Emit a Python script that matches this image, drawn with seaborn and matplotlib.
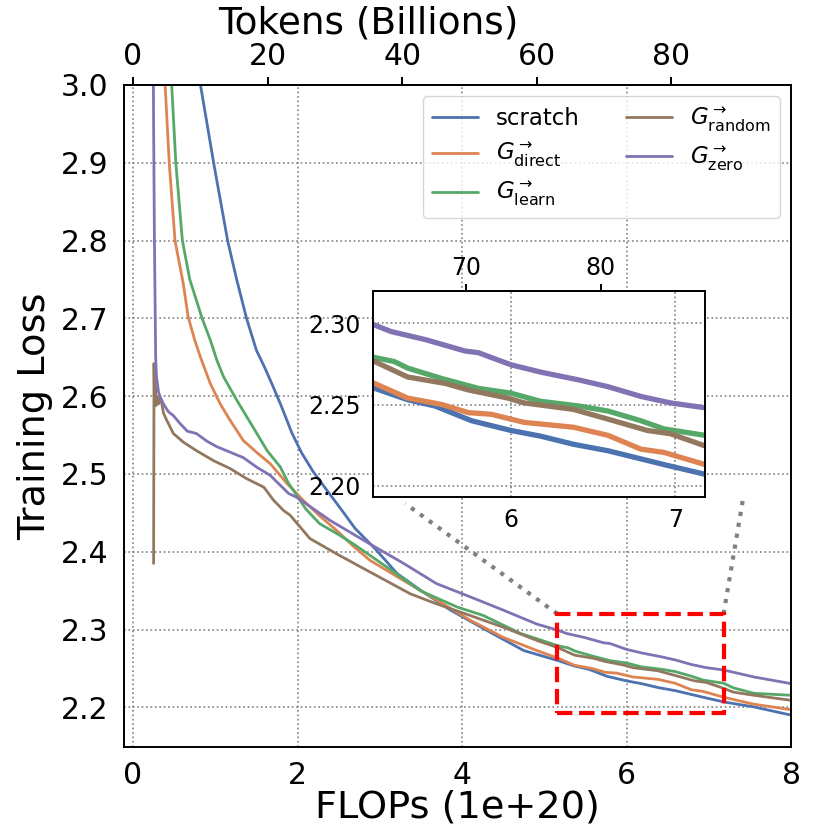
import numpy as np
import pandas as pd
import matplotlib
matplotlib.use("Agg")
import matplotlib.pyplot as plt
import matplotlib.patches as patches
import seaborn as sns

# loss curves: FLOPs in units of 1e20, training loss
scratch_x = [0.78, 0.82, 0.98, 1.15, 1.26, 1.38, 1.50, 1.60, 1.70, 1.80, 1.93, 2.05, 2.19, 2.35, 2.52, 2.70,
             2.96, 3.21, 3.53, 3.86, 4.30, 4.75, 5.17, 5.37, 5.54, 5.76, 6.00, 6.18, 6.38, 6.59, 6.79, 6.93,
             7.18, 7.55, 8.00]
scratch_y = [3.05, 3.00, 2.90, 2.80, 2.75, 2.70, 2.659, 2.637, 2.613, 2.588, 2.553, 2.527, 2.503, 2.480, 2.456, 2.430,
             2.402, 2.372, 2.348, 2.325, 2.299, 2.273, 2.260, 2.253, 2.249, 2.240, 2.234, 2.2305, 2.2255, 2.2215, 2.2165, 2.213,
             2.207, 2.2005, 2.190]

direct_x = [0.37, 0.39, 0.44, 0.51, 0.61, 0.67, 0.75, 0.82, 0.94, 1.06, 1.18, 1.34, 1.50, 1.67, 1.87, 2.07,
            2.27, 2.48, 2.68, 2.88, 3.29, 3.69, 4.10, 4.50, 4.91, 5.17, 5.37, 5.58, 5.74, 5.88, 6.08, 6.38,
            6.59, 6.79, 6.93, 7.18, 7.55, 8.00]
direct_y = [3.05, 3.00, 2.90, 2.80, 2.745, 2.702, 2.672, 2.650, 2.616, 2.590, 2.569, 2.543, 2.528, 2.513, 2.488, 2.466,
            2.446, 2.427, 2.407, 2.389, 2.363, 2.338, 2.312, 2.290, 2.273, 2.263, 2.254, 2.250, 2.245, 2.244, 2.239, 2.236,
            2.231, 2.2225, 2.2205, 2.213, 2.204, 2.197]

learn_x = [0.45, 0.47, 0.52, 0.60, 0.69, 0.84, 0.94, 1.02, 1.10, 1.26, 1.46, 1.63, 1.79, 1.89, 1.95, 2.10,
           2.27, 2.50, 2.68, 3.09, 3.49, 3.94, 4.26, 4.71, 5.00, 5.17, 5.29, 5.37, 5.58, 5.80, 6.00, 6.18,
           6.42, 6.59, 6.79, 6.93, 7.18, 7.30, 7.55, 8.00]
learn_y = [3.05, 3.00, 2.90, 2.80, 2.75, 2.70, 2.672, 2.646, 2.625, 2.595, 2.560, 2.530, 2.509, 2.488, 2.479, 2.455,
           2.436, 2.422, 2.410, 2.380, 2.350, 2.329, 2.318, 2.295, 2.285, 2.279, 2.2765, 2.2725, 2.266, 2.260, 2.257, 2.252,
           2.249, 2.246, 2.240, 2.235, 2.231, 2.225, 2.218, 2.2155]

random_x = [0.25, 0.255, 0.262, 0.27, 0.28, 0.29, 0.31, 0.33, 0.35, 0.37, 0.41, 0.49, 0.61, 0.77, 0.98, 1.18,
            1.38, 1.59, 1.71, 1.83, 1.91, 2.15, 2.48, 2.88, 3.37, 3.69, 4.10, 4.50, 4.91, 5.17, 5.37, 5.60,
            5.74, 5.98, 6.08, 6.38, 6.59, 6.83, 6.97, 7.18, 7.30, 7.55, 8.00]
random_y = [2.385, 2.642, 2.590, 2.612, 2.588, 2.600, 2.590, 2.598, 2.590, 2.578, 2.569, 2.552, 2.541, 2.530, 2.517, 2.507,
            2.494, 2.483, 2.466, 2.453, 2.447, 2.417, 2.397, 2.374, 2.346, 2.333, 2.318, 2.303, 2.286, 2.2765, 2.267, 2.263,
            2.259, 2.254, 2.251, 2.247, 2.241, 2.234, 2.232, 2.2245, 2.2195, 2.2155, 2.209]

zero_x = [0.245, 0.25, 0.26, 0.27, 0.275, 0.285, 0.31, 0.33, 0.37, 0.43, 0.49, 0.57, 0.66, 0.77, 0.90, 1.02,
          1.18, 1.34, 1.50, 1.67, 1.89, 1.99, 2.40, 2.88, 3.29, 3.69, 4.10, 4.50, 4.91, 5.17, 5.27, 5.48,
          5.72, 5.80, 6.00, 6.18, 6.42, 6.59, 6.79, 6.97, 7.18, 7.55, 8.00]
zero_y = [3.05, 2.95, 2.80, 2.70, 2.65, 2.625, 2.605, 2.599, 2.590, 2.580, 2.575, 2.565, 2.555, 2.552, 2.542, 2.535,
          2.528, 2.521, 2.509, 2.498, 2.475, 2.470, 2.440, 2.410, 2.385, 2.359, 2.342, 2.325, 2.307, 2.299, 2.295, 2.290,
          2.283, 2.282, 2.2745, 2.270, 2.265, 2.261, 2.255, 2.251, 2.248, 2.239, 2.2305]

labels = ['scratch',
          r'$G^{\rightarrow}_{\mathrm{direct}}$',
          r'$G^{\rightarrow}_{\mathrm{learn}}$',
          r'$G^{\rightarrow}_{\mathrm{random}}$',
          r'$G^{\rightarrow}_{\mathrm{zero}}$']

# tokens (billions) per 1e20 FLOPs
tokens_per_flop = 12.22

deep = sns.color_palette('deep')
colors = [deep[0], deep[1], deep[2], deep[5], deep[4]]

series = [(scratch_x, scratch_y), (direct_x, direct_y), (learn_x, learn_y),
          (random_x, random_y), (zero_x, zero_y)]

sns.set_theme(style='white', palette='deep')
plt.rcParams['font.family'] = ['DejaVu Sans']
plt.rcParams['mathtext.fontset'] = 'dejavusans'
for key in ['text.color', 'axes.labelcolor', 'xtick.color', 'ytick.color']:
    plt.rcParams[key] = 'black'

fig = plt.figure(figsize=(8.3, 8.3), dpi=100)
ax = fig.add_axes([124/830, 83/830, 667/830, 662/830])

for (xs, ys), lab, c in zip(series, labels, colors):
    df = pd.DataFrame({'flops': xs, 'loss': ys})
    sns.lineplot(data=df, x='flops', y='loss', ax=ax, color=c, lw=2, label=lab,
                 estimator=None, sort=False)

ax.set_xlim(-0.11, 8.0)
ax.set_ylim(2.149, 3.0)
ax.set_xticks([0, 2, 4, 6, 8])
ax.set_yticks(np.arange(2.2, 3.01, 0.1))
ax.yaxis.set_major_formatter(matplotlib.ticker.FormatStrFormatter('%.1f'))
ax.grid(True, linestyle=':', color='grey', lw=1.2)
ax.tick_params(axis='x', length=6, width=1.4, labelsize=21.5, pad=4, color='black')
ax.tick_params(axis='y', length=0, labelsize=21.5, pad=11)
ax.set_xlabel('FLOPs (1e+20)', fontsize=27.5, labelpad=0)
ax.set_ylabel('Training Loss', fontsize=27.5, labelpad=6)
for s in ax.spines.values():
    s.set_color('black')
    s.set_linewidth(1.4)

secax = ax.secondary_xaxis('top', functions=(lambda f: f * tokens_per_flop, lambda t: t / tokens_per_flop))
secax.set_xticks([0, 20, 40, 60, 80])
secax.tick_params(axis='x', length=6, width=1.4, labelsize=21.5, pad=4, color='black')
secax.set_xlabel('Tokens (Billions)', fontsize=27, labelpad=6, x=0.366)

ax.legend(loc='upper right', ncol=2, fontsize=16.5, framealpha=0.8, edgecolor='0.8',
          fancybox=True, labelspacing=0.45)

# zoom box and connectors
x0, x1, y0, y1 = 5.16, 7.18, 2.193, 2.32
ax.add_patch(patches.Rectangle((x0, y0), x1 - x0, y1 - y0, fill=False, edgecolor='red',
                               linestyle='--', lw=3, zorder=5))
ax.plot([x0, 3.31], [y1, 2.462], linestyle=':', color='grey', lw=3, zorder=4)
ax.plot([x1, 7.42], [y1, 2.47], linestyle=':', color='grey', lw=3, zorder=4)

# inset
axins = fig.add_axes([373/830, 333/830, 332/830, 206/830])
for (xs, ys), c in zip(series, colors):
    df = pd.DataFrame({'flops': xs, 'loss': ys})
    sns.lineplot(data=df, x='flops', y='loss', ax=axins, color=c, lw=3.8,
                 estimator=None, sort=False, legend=False)
axins.set_xlim(x0, x1)
axins.set_ylim(y0, y1)
axins.set_xticks([6, 7])
axins.set_yticks([2.20, 2.25, 2.30])
axins.yaxis.set_major_formatter(matplotlib.ticker.FormatStrFormatter('%.2f'))
axins.set_xlabel('')
axins.set_ylabel('')
axins.grid(True, linestyle=':', color='grey', lw=1.2)
axins.tick_params(axis='x', length=5, width=1.4, labelsize=17, pad=3, color='black')
axins.tick_params(axis='y', length=0, labelsize=17, pad=9)
for s in axins.spines.values():
    s.set_color('black')
    s.set_linewidth(1.4)
secins = axins.secondary_xaxis('top', functions=(lambda f: f * tokens_per_flop, lambda t: t / tokens_per_flop))
secins.set_xticks([70, 80])
secins.tick_params(axis='x', length=5, width=1.4, labelsize=17, pad=3, color='black')

fig.savefig('out.png', dpi=100)
